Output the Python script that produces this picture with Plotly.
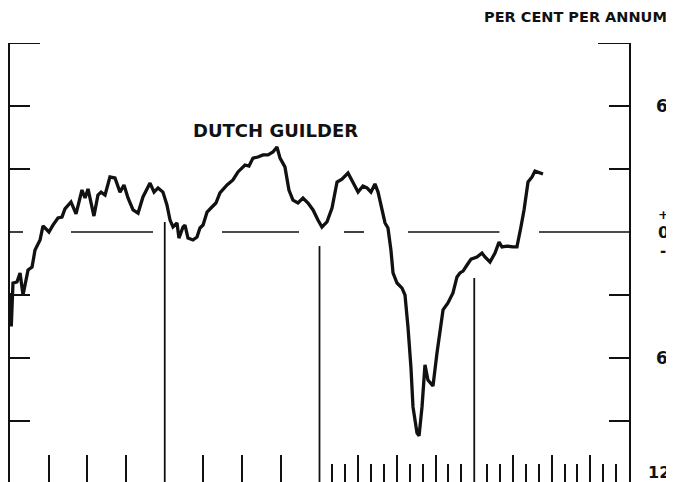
import plotly.graph_objects as go

# ---- data (x = months from start of the 4-year window, y = per cent per annum) ----
month = [0.0, 0.1, 0.23, 0.54, 0.78, 1.01, 1.40, 1.71, 1.94, 2.33, 2.56, 3.02, 3.33, 3.72,
         4.03, 4.26, 4.73, 5.12, 5.58, 5.82, 6.05, 6.36, 6.51, 6.82, 7.06, 7.37, 7.75, 8.14,
         8.53, 8.84, 9.15, 9.54, 9.93, 10.31, 10.86, 11.17, 11.48, 11.86, 12.17, 12.41, 12.64,
         12.95, 13.10, 13.42, 13.57, 13.80, 14.19, 14.50, 14.73, 14.97, 15.28, 15.66, 15.97,
         16.28, 16.83, 17.29, 17.68, 18.22, 18.53, 18.84, 19.23, 19.62, 20.01, 20.39, 20.70,
         20.94, 21.32, 21.63, 21.94, 22.33, 22.72, 23.11, 23.50, 23.88, 24.19, 24.58, 24.97,
         25.36, 25.74, 26.21, 26.60, 26.99, 27.37, 27.68, 27.99, 28.30, 28.54, 28.85, 29.08,
         29.31, 29.54, 29.70, 30.01, 30.40, 30.63, 30.86, 31.09, 31.25, 31.56, 31.72, 31.95,
         32.18, 32.41, 32.80, 33.11, 33.58, 33.96, 34.35, 34.66, 34.89, 35.13, 35.44, 35.75,
         36.21, 36.60, 36.83, 37.22, 37.61, 37.92, 38.15, 38.54, 39.00, 39.31, 39.62, 39.86,
         40.17, 40.48, 40.71, 40.94, 41.33]
spread = [-2.9, -4.5, -2.43, -2.38, -1.95, -3.0, -1.81, -1.67, -0.86, -0.38, 0.29, 0.0, 0.33, 0.67,
          0.71, 1.10, 1.43, 0.86, 2.0, 1.62, 2.05, 1.19, 0.76, 1.76, 1.90, 1.76, 2.62, 2.57,
          1.90, 2.24, 1.62, 1.05, 0.90, 1.67, 2.33, 1.90, 2.10, 1.90, 1.29, 0.57, 0.24,
          0.43, -0.29, 0.24, 0.33, -0.29, -0.38, -0.24, 0.19, 0.33, 0.95, 1.19, 1.38,
          1.86, 2.24, 2.48, 2.86, 3.19, 3.14, 3.52, 3.57, 3.67, 3.67, 3.81, 4.05,
          3.52, 3.10, 2.0, 1.52, 1.38, 1.62, 1.38, 1.05, 0.57, 0.24, 0.48, 1.14,
          2.38, 2.52, 2.81, 2.38, 1.90, 2.19, 2.10, 1.90, 2.29, 1.90, 0.95, 0.43,
          0.19, -0.86, -1.95, -2.43, -2.67, -3.0, -4.52, -6.43, -8.33, -9.57, -9.71, -8.33,
          -6.33, -7.05, -7.33, -5.76, -3.71, -3.38, -2.90, -2.14, -1.95, -1.86, -1.57, -1.29,
          -1.19, -1.0, -1.19, -1.43, -1.0, -0.48, -0.71, -0.67, -0.71, -0.71, 0.24, 1.05,
          2.38, 2.62, 2.90, 2.86, 2.76]

# year separators (month position, value where the line stops)
year_marks = [12, 24, 36]
year_mark_tops = [0.48, -0.67, -2.19]

# broken zero line segments (start month, end month)
zero_segments = [(0.0, 1.01), (4.73, 11.09), (16.44, 22.41), (25.9, 27.45), (30.86, 37.95), (41.02, 48.0)]

quarter_ticks = [3, 6, 9, 15, 18, 21, 27, 30, 33, 39, 42, 45]
month_ticks = [25, 26, 28, 29, 31, 32, 34, 35, 37, 38, 40, 41, 43, 44, 46, 47]
y_ticks = [-9, -6, -3, 3, 6]
y_labels = [(6, "6"), (-6, "6")]

Y_MIN, Y_MAX = -11.905, 9.0
X_MIN, X_MAX = 0, 48
INK = "#111111"

# page body has an 8px margin; plot area is meant to span x 10..629, y 43..482 on the page
OFF = 8
PW = 619.0   # plot width in px
PH = 439.0   # plot height in px


def px_x(p):
    return (p - 10) / PW


def px_y(p):
    return (482 - p) / PH


fig = go.Figure()
fig.add_trace(go.Scatter(x=month, y=spread, mode="lines",
                         line=dict(color=INK, width=3.3), hoverinfo="skip", showlegend=False))

shapes = []
for x0, x1 in zero_segments:
    shapes.append(dict(type="line", xref="x", yref="y", x0=x0, x1=x1, y0=0, y1=0,
                       line=dict(color=INK, width=1.6)))
for xm, top in zip(year_marks, year_mark_tops):
    shapes.append(dict(type="line", xref="x", yref="y", x0=xm, x1=xm, y0=Y_MIN, y1=top,
                       line=dict(color=INK, width=1.8)))
# top corner brackets
shapes.append(dict(type="line", xref="paper", yref="y", x0=0, x1=30 / PW, y0=Y_MAX, y1=Y_MAX,
                   line=dict(color=INK, width=2)))
shapes.append(dict(type="line", xref="paper", yref="y", x0=1 - 31 / PW, x1=1, y0=Y_MAX, y1=Y_MAX,
                   line=dict(color=INK, width=2)))

font_b = "DejaVu Sans"
annotations = [
    dict(text="<b>DUTCH GUILDER</b>", xref="paper", yref="paper", x=px_x(275), y=px_y(130),
         showarrow=False, font=dict(family=font_b, size=18, color=INK), xanchor="center", yanchor="middle"),
    dict(text="<b>PER CENT PER ANNUM</b>", xref="paper", yref="paper", x=px_x(669), y=px_y(17),
         showarrow=False, font=dict(family=font_b, size=14.5, color=INK), xanchor="right", yanchor="middle"),
    dict(text="<b>0</b>", xref="paper", yref="paper", x=px_x(663), y=px_y(232),
         showarrow=False, font=dict(family=font_b, size=16, color=INK), xanchor="center", yanchor="middle",
         borderpad=0),
    dict(text="<b>+</b>", xref="paper", yref="paper", x=px_x(663), y=px_y(214),
         showarrow=False, font=dict(family=font_b, size=13, color=INK), xanchor="center", yanchor="middle",
         borderpad=0),
    dict(text="<b>-</b>", xref="paper", yref="paper", x=px_x(663), y=px_y(251),
         showarrow=False, font=dict(family=font_b, size=15, color=INK), xanchor="center", yanchor="middle",
         borderpad=0),
    dict(text="<b>12</b>", xref="paper", yref="paper", x=px_x(659), y=px_y(472),
         showarrow=False, font=dict(family=font_b, size=16, color=INK), xanchor="center", yanchor="middle",
         borderpad=0),
]
for yv, txt in y_labels:
    annotations.append(dict(text="<b>" + txt + "</b>", xref="paper", yref="y", x=px_x(662), y=yv,
                            showarrow=False, font=dict(family=font_b, size=17, color=INK),
                            xanchor="center", yanchor="middle"))

fig.update_layout(
    width=674 - OFF, height=482 - OFF,
    margin=dict(l=10 - OFF, r=674 - 629, t=43 - OFF, b=0, pad=0),
    paper_bgcolor="white", plot_bgcolor="white",
    shapes=shapes, annotations=annotations,
    xaxis=dict(range=[X_MIN, X_MAX], showgrid=False, zeroline=False, showline=False,
               showticklabels=False, ticks="inside", tickvals=quarter_ticks, ticklen=27,
               tickwidth=1.8, tickcolor=INK,
               minor=dict(tickvals=month_ticks, ticks="inside", ticklen=18, tickwidth=1.5,
                          tickcolor=INK, showgrid=False)),
    yaxis=dict(range=[Y_MIN, Y_MAX], showgrid=False, zeroline=False, showline=True,
               linecolor=INK, linewidth=2, mirror="ticks", ticks="inside", tickvals=y_ticks,
               ticklen=20, tickwidth=2, tickcolor=INK, showticklabels=False),
)

fig.write_html("out.html")
